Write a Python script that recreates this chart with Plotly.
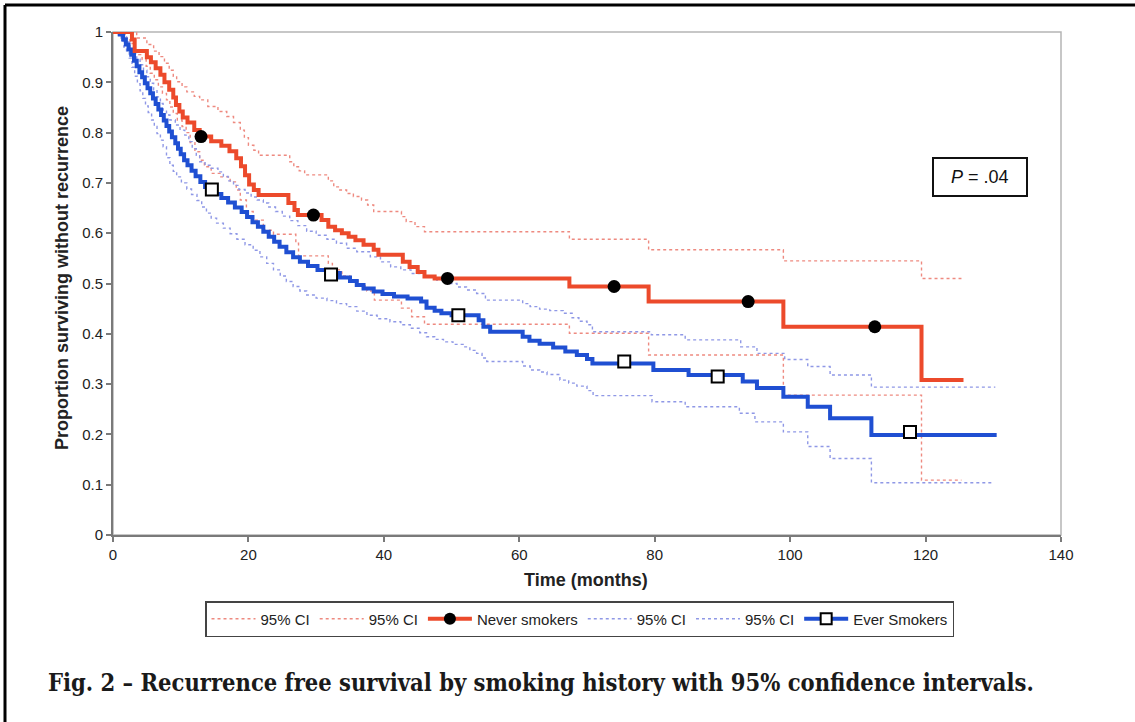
import plotly.graph_objects as go

# ---------------- data ----------------
never_t = [0, 2.8, 3.2, 5.0, 5.6, 6.3, 7.0, 7.6, 8.3, 8.9, 9.3, 9.8, 10.3, 11.0, 12.0, 12.8,
           14.5, 16.0, 17.2, 18.2, 18.9, 19.5, 20.1, 20.8, 21.5, 25.9, 26.8, 27.3, 30.8, 31.8,
           32.8, 33.8, 34.8, 35.8, 37.0, 38.5, 39.2, 42.8, 43.8, 45.0, 46.0, 47.5, 67.4, 79.1,
           99.0, 119.4, 125.6]
never_s = [1.0, 0.985, 0.962, 0.950, 0.940, 0.928, 0.915, 0.900, 0.885, 0.870, 0.855, 0.842, 0.830,
           0.820, 0.805, 0.792, 0.783, 0.774, 0.763, 0.749, 0.733, 0.715, 0.697, 0.686, 0.676, 0.660,
           0.646, 0.636, 0.626, 0.613, 0.606, 0.600, 0.593, 0.586, 0.577, 0.567, 0.557, 0.543, 0.533,
           0.523, 0.514, 0.510, 0.494, 0.464, 0.414, 0.308, 0.308]

never_hi_t = [0, 3.5, 5.0, 6.0, 6.8, 7.6, 8.3, 8.9, 9.4, 10.2, 10.9, 12.0, 12.8, 14.0, 15.5, 16.8,
              17.8, 18.8, 19.4, 20.0, 20.8, 21.5, 26.1, 26.7, 27.5, 28.3, 31.8, 32.6, 33.5, 34.5,
              35.5, 36.7, 37.6, 38.5, 42.6, 43.3, 44.6, 46.0, 67.4, 79.1, 99.0, 119.4, 125.3]
never_hi_s = [1.0, 0.988, 0.975, 0.962, 0.951, 0.938, 0.924, 0.912, 0.901, 0.891, 0.881, 0.872,
              0.865, 0.852, 0.842, 0.832, 0.820, 0.805, 0.790, 0.775, 0.765, 0.755, 0.742, 0.732,
              0.724, 0.716, 0.704, 0.692, 0.686, 0.679, 0.673, 0.666, 0.656, 0.643, 0.633, 0.623,
              0.613, 0.603, 0.588, 0.567, 0.545, 0.510, 0.510]

never_lo_t = [0, 1.8, 2.5, 3.2, 3.8, 4.3, 4.9, 5.5, 6.1, 6.7, 7.3, 7.9, 8.4, 8.9, 9.5, 10.2, 10.8,
              11.4, 12.1, 12.8, 13.5, 14.5, 15.8, 17.3, 18.2, 18.8, 19.7, 20.7, 22.2, 23.7, 27.0,
              27.4, 31.8, 32.4, 33.8, 35.0, 36.2, 37.5, 38.6, 42.6, 44.1, 46.0, 67.4, 79.1, 99.0,
              119.4, 125.3]
never_lo_s = [1.0, 0.988, 0.977, 0.965, 0.955, 0.945, 0.932, 0.918, 0.905, 0.891, 0.878, 0.865,
              0.851, 0.838, 0.825, 0.812, 0.800, 0.780, 0.762, 0.745, 0.732, 0.719, 0.712, 0.702,
              0.686, 0.666, 0.643, 0.626, 0.606, 0.598, 0.580, 0.555, 0.540, 0.527, 0.515, 0.505,
              0.495, 0.485, 0.467, 0.451, 0.434, 0.419, 0.401, 0.358, 0.278, 0.109, 0.109]

ever_t = [0, 1.0, 1.5, 1.9, 2.3, 2.7, 3.1, 3.5, 3.9, 4.3, 4.7, 5.1, 5.5, 5.9, 6.3, 6.7, 7.1, 7.5,
          7.9, 8.3, 8.7, 9.2, 9.6, 10.0, 10.5, 11.0, 11.6, 12.2, 12.9, 13.6, 14.4, 15.2, 16.0, 17.0,
          18.0, 19.0, 19.8, 20.6, 21.4, 22.2, 23.0, 23.8, 24.6, 25.6, 26.6, 27.6, 28.8, 30.2, 31.5,
          33.5, 35.0, 36.0, 37.0, 38.5, 39.8, 41.5, 43.5, 45.5, 46.3, 47.5, 48.5, 50.0, 54.0, 54.7,
          55.7, 60.5, 61.5, 63.0, 65.0, 66.8, 68.5, 70.0, 70.8, 79.8, 85.0, 93.0, 95.1, 99.0, 102.6,
          105.9, 112.0, 130.5]
ever_s = [1.0, 0.995, 0.985, 0.975, 0.965, 0.955, 0.943, 0.932, 0.920, 0.910, 0.898, 0.888, 0.878,
          0.868, 0.857, 0.846, 0.835, 0.824, 0.813, 0.802, 0.791, 0.779, 0.768, 0.757, 0.745, 0.735,
          0.724, 0.713, 0.702, 0.692, 0.686, 0.678, 0.670, 0.661, 0.651, 0.642, 0.632, 0.622, 0.613,
          0.603, 0.593, 0.583, 0.573, 0.562, 0.552, 0.543, 0.535, 0.527, 0.521, 0.512, 0.505, 0.497,
          0.490, 0.484, 0.479, 0.474, 0.470, 0.464, 0.452, 0.446, 0.441, 0.437, 0.427, 0.414, 0.404,
          0.394, 0.386, 0.380, 0.373, 0.365, 0.358, 0.350, 0.341, 0.328, 0.318, 0.305, 0.292, 0.275,
          0.255, 0.232, 0.199, 0.199]

ever_hi_t = [0, 1.3, 2.0, 2.5, 3.0, 3.5, 4.0, 4.5, 5.0, 5.5, 6.0, 6.5, 7.0, 7.4, 7.9, 8.4, 9.2, 9.9,
             10.6, 11.2, 11.7, 12.3, 12.8, 13.6, 14.5, 15.5, 16.3, 17.0, 17.8, 18.6, 19.5, 20.4,
             21.3, 22.2, 23.0, 24.0, 25.0, 26.1, 27.3, 28.6, 30.0, 31.6, 33.0, 34.5, 36.0, 38.0,
             39.5, 41.0, 42.5, 44.0, 46.0, 47.8, 49.3, 50.8, 52.2, 53.7, 55.0, 60.5, 61.6, 63.0,
             64.5, 66.5, 67.8, 68.8, 70.0, 70.8, 79.5, 84.5, 92.7, 95.1, 99.2, 102.6, 105.9, 112.0,
             130.3]
ever_hi_s = [1.0, 0.990, 0.980, 0.968, 0.957, 0.946, 0.935, 0.924, 0.911, 0.898, 0.885, 0.871, 0.858,
             0.845, 0.835, 0.825, 0.815, 0.805, 0.795, 0.782, 0.768, 0.755, 0.742, 0.735, 0.729,
             0.722, 0.713, 0.704, 0.695, 0.687, 0.680, 0.672, 0.666, 0.660, 0.652, 0.643, 0.634,
             0.625, 0.615, 0.604, 0.596, 0.588, 0.580, 0.570, 0.563, 0.553, 0.543, 0.533, 0.527,
             0.520, 0.514, 0.507, 0.500, 0.493, 0.487, 0.480, 0.467, 0.460, 0.454, 0.449, 0.446,
             0.441, 0.432, 0.425, 0.418, 0.404, 0.398, 0.388, 0.374, 0.361, 0.349, 0.335, 0.318,
             0.294, 0.294]

ever_lo_t = [0, 0.8, 1.2, 1.6, 2.0, 2.4, 2.8, 3.2, 3.6, 4.0, 4.4, 4.8, 5.2, 5.7, 6.1, 6.5, 7.0, 7.4,
             7.9, 8.4, 8.9, 9.4, 10.1, 10.9, 11.6, 12.4, 13.1, 13.8, 14.5, 15.3, 16.3, 17.3, 18.3,
             19.5, 20.7, 21.7, 22.7, 23.7, 24.7, 25.6, 26.6, 27.6, 28.6, 30.0, 31.6, 33.0, 34.5,
             36.0, 37.5, 39.0, 40.9, 42.5, 43.9, 45.3, 46.3, 47.5, 48.8, 50.2, 51.7, 52.7, 53.7,
             54.5, 55.2, 60.5, 61.6, 63.0, 64.1, 66.0, 67.3, 68.5, 70.0, 70.9, 79.6, 84.5, 92.5,
             94.8, 99.0, 102.6, 105.9, 112.0, 130.0]
ever_lo_s = [1.0, 0.994, 0.982, 0.970, 0.960, 0.948, 0.930, 0.912, 0.897, 0.883, 0.868, 0.853, 0.840,
             0.825, 0.812, 0.798, 0.785, 0.772, 0.750, 0.735, 0.723, 0.712, 0.700, 0.688, 0.677,
             0.665, 0.652, 0.640, 0.630, 0.620, 0.610, 0.599, 0.588, 0.577, 0.566, 0.553, 0.540,
             0.527, 0.515, 0.504, 0.494, 0.485, 0.477, 0.471, 0.466, 0.460, 0.454, 0.445, 0.437,
             0.430, 0.424, 0.418, 0.411, 0.402, 0.394, 0.389, 0.384, 0.379, 0.374, 0.367, 0.361,
             0.352, 0.345, 0.336, 0.328, 0.324, 0.319, 0.308, 0.302, 0.296, 0.287, 0.277, 0.265,
             0.255, 0.242, 0.225, 0.205, 0.176, 0.152, 0.104, 0.104]

never_mark_t = [13.0, 29.6, 49.4, 74.0, 93.8, 112.5]
never_mark_s = [0.792, 0.636, 0.510, 0.494, 0.464, 0.414]
ever_mark_t = [14.6, 32.2, 51.0, 75.5, 89.3, 117.7]
ever_mark_s = [0.687, 0.518, 0.437, 0.345, 0.315, 0.205]

x_ticks = [0, 20, 40, 60, 80, 100, 120, 140]
y_ticks = [0, 0.1, 0.2, 0.3, 0.4, 0.5, 0.6, 0.7, 0.8, 0.9, 1.0]
y_tick_text = ["0", "0.1", "0.2", "0.3", "0.4", "0.5", "0.6", "0.7", "0.8", "0.9", "1"]

ci_label = "95% CI"
never_label = "Never smokers"
ever_label = "Ever Smokers"
x_title = "Time (months)"
y_title = "Proportion surviving without recurrence"
p_text = "<i>P</i> = .04"
caption = "Fig. 2 \u2013 Recurrence free survival by smoking history with 95% confidence intervals."

# ---------------- styles ----------------
RED = "#ec4a2b"
BLUE = "#1f4fd2"
RED_CI = "#ee8a80"
BLUE_CI = "#8f98e6"
SANS = "Liberation Sans, Arial, sans-serif"

fig = go.Figure()

def ci_trace(t, s, color, show):
    return go.Scatter(x=t, y=s, mode="lines", line=dict(color=color, width=1.4, dash="dot", shape="hv"),
                      name=ci_label, showlegend=show, hoverinfo="skip")

fig.add_trace(ci_trace(never_hi_t, never_hi_s, RED_CI, True))
fig.add_trace(ci_trace(never_lo_t, never_lo_s, RED_CI, True))
fig.add_trace(go.Scatter(x=[None], y=[None], mode="lines+markers", name=never_label,
                         line=dict(color=RED, width=4),
                         marker=dict(symbol="circle", size=12, color="black")))
fig.add_trace(ci_trace(ever_hi_t, ever_hi_s, BLUE_CI, True))
fig.add_trace(ci_trace(ever_lo_t, ever_lo_s, BLUE_CI, True))
fig.add_trace(go.Scatter(x=[None], y=[None], mode="lines+markers", name=ever_label,
                         line=dict(color=BLUE, width=4),
                         marker=dict(symbol="square", size=11, color="white",
                                     line=dict(color="black", width=2))))

fig.add_trace(go.Scatter(x=ever_t, y=ever_s, mode="lines", showlegend=False, hoverinfo="skip",
                         line=dict(color=BLUE, width=4, shape="hv")))
fig.add_trace(go.Scatter(x=never_t, y=never_s, mode="lines", showlegend=False, hoverinfo="skip",
                         line=dict(color=RED, width=4, shape="hv")))
fig.add_trace(go.Scatter(x=never_mark_t, y=never_mark_s, mode="markers", showlegend=False,
                         marker=dict(symbol="circle", size=13, color="black")))
fig.add_trace(go.Scatter(x=ever_mark_t, y=ever_mark_s, mode="markers", showlegend=False,
                         marker=dict(symbol="square", size=12, color="white",
                                     line=dict(color="black", width=2))))

W, H = 1135, 722
L, R, T, B = 113, 1061, 32, 535

def px(xp):
    return (xp - L) / (R - L)

def py(yp):
    return (B - yp) / (B - T)

fig.update_layout(
    width=W, height=H,
    margin=dict(l=L, r=W - R, t=T, b=H - B),
    paper_bgcolor="white", plot_bgcolor="white",
    font=dict(family=SANS, size=15, color="#222"),
    xaxis=dict(range=[0, 140], tickvals=x_ticks, showgrid=False, zeroline=False,
               showline=True, linecolor="#7a7a7a", linewidth=2, ticks="outside",
               ticklen=5, tickcolor="#7a7a7a", tickwidth=1.5,
               tickfont=dict(family=SANS, size=15, color="#222")),
    yaxis=dict(range=[0, 1], tickvals=y_ticks, ticktext=y_tick_text, showgrid=False,
               zeroline=False, showline=True, linecolor="#7a7a7a", linewidth=2,
               ticks="outside", ticklen=5, tickcolor="#7a7a7a", tickwidth=1.5,
               tickfont=dict(family=SANS, size=15, color="#222")),
    legend=dict(orientation="h", x=px(205), y=py(601), xanchor="left", yanchor="top",
                bordercolor="#444", borderwidth=1.5, bgcolor="white",
                font=dict(family=SANS, size=15, color="#222"),
                itemwidth=44, tracegroupgap=0, traceorder="normal"),
    showlegend=True,
)

shapes = [
    dict(type="rect", xref="paper", yref="paper", x0=0, x1=1, y0=0, y1=1,
         line=dict(color="#b5b5b5", width=1.5), layer="below"),
    dict(type="rect", xref="paper", yref="paper", x0=px(933), x1=px(1027), y0=py(196), y1=py(158),
         line=dict(color="#111", width=2), fillcolor="white"),
    dict(type="line", xref="paper", yref="paper", x0=px(5), x1=px(1135), y0=py(5), y1=py(5),
         line=dict(color="black", width=3)),
    dict(type="line", xref="paper", yref="paper", x0=px(5), x1=px(5), y0=py(5), y1=py(722),
         line=dict(color="black", width=3)),
]
fig.update_layout(shapes=shapes)

annotations = [
    dict(text=p_text, xref="paper", yref="paper", x=px(980), y=py(177), showarrow=False,
         font=dict(family=SANS, size=18, color="#111"), xanchor="center", yanchor="middle"),
    dict(text="<b>" + x_title + "</b>", xref="paper", yref="paper", x=px(586), y=py(580),
         showarrow=False, font=dict(family=SANS, size=18, color="#222"),
         xanchor="center", yanchor="middle"),
    dict(text="<b>" + y_title + "</b>", xref="paper", yref="paper", x=px(62), y=py(278),
         showarrow=False, textangle=-90, font=dict(family=SANS, size=18, color="#222"),
         xanchor="center", yanchor="middle"),
    dict(text="<b>" + caption + "</b>", xref="paper", yref="paper", x=px(541), y=py(683),
         showarrow=False, font=dict(family="DejaVu Serif Condensed, DejaVu Serif, serif",
                                    size=23.5, color="#1a1a1a"),
         xanchor="center", yanchor="middle"),
]
fig.update_layout(annotations=annotations)

fig.write_html("out.html", config={"displayModeBar": False},
               post_script="document.body.style.margin='0px';")
